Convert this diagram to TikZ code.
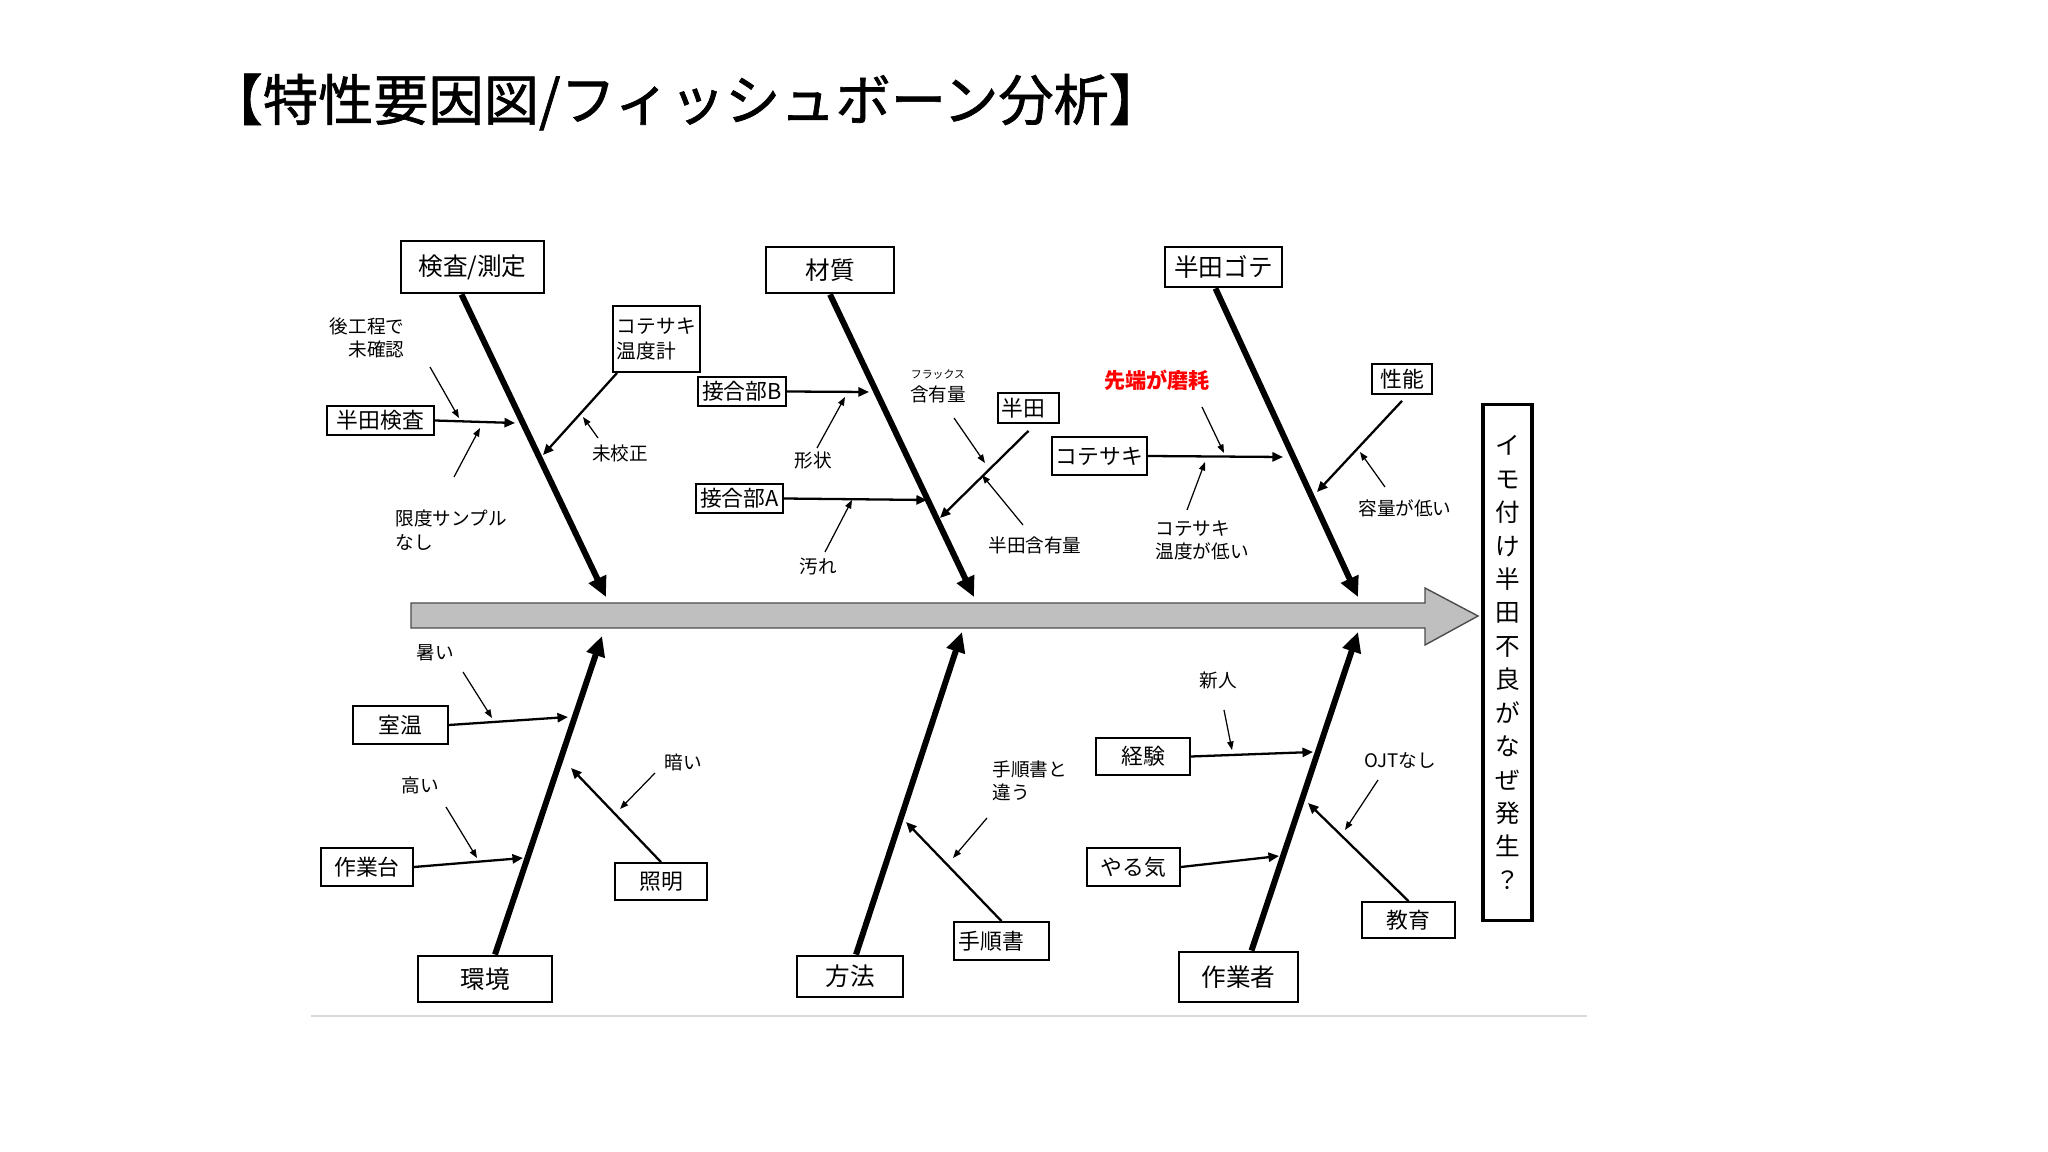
\documentclass[tikz,border=0pt]{standalone}
\usepackage{fontspec}
\setmainfont{Noto Sans CJK JP}
\newfontfamily\titlefont{Noto Sans CJK JP}[FakeBold=1.2]
\usetikzlibrary{arrows.meta}

\begin{document}
\begin{tikzpicture}[x=0.01cm,y=-0.01cm,
    catbox/.style={draw,line width=0.8pt,inner sep=0pt,font=\fontsize{7}{8}\selectfont},
    subbox/.style={draw,line width=0.5pt,inner sep=0pt,font=\fontsize{6.2}{7}\selectfont},
    lbl/.style={inner sep=0pt,font=\fontsize{5.3}{6.6}\selectfont},
    bone/.style={line width=1.7pt,-{Triangle[length=5.7pt,width=5.2pt]}},
    branch/.style={line width=0.65pt,-{Triangle[length=3pt,width=2.6pt]}},
    note/.style={line width=0.35pt,-{Triangle[length=2.4pt,width=1.8pt]}}]
    \useasboundingbox (0,0) rectangle (2048,1152);

    \node[anchor=west,inner sep=0pt,font=\titlefont\fontsize{15.7}{18}\selectfont] (title) at (207,102) {【特性要因図/フィッシュボーン分析】};

    % Spine
    \draw[fill=black!25,draw=black!70,line width=0.4pt] (411,603) -- (1425,603) -- (1425,588) -- (1478,616)
        -- (1425,645) -- (1425,628) -- (411,628) -- cycle;
    \draw[black!15,line width=0.5pt] (311,1016) -- (1587,1016);

    \node[draw,line width=0.9pt,inner sep=0pt,minimum width=0.49cm,minimum height=5.15cm,align=center,
        font=\fontsize{7}{9.5}\selectfont] (effect) at (1507.5,662.5)
        {イ\\モ\\付\\け\\半\\田\\不\\良\\が\\な\\ぜ\\発\\生\\？};

    % Categories
    \node[catbox,minimum width=1.43cm,minimum height=0.52cm] (kensa) at (472.5,267) {検査/測定};
    \node[catbox,minimum width=1.28cm,minimum height=0.46cm] (zaishitsu) at (830,270) {材質};
    \node[catbox,minimum width=1.17cm,minimum height=0.40cm] (gote) at (1223.5,267) {半田ゴテ};
    \node[catbox,minimum width=1.34cm,minimum height=0.46cm] (kankyo) at (485,979) {環境};
    \node[catbox,minimum width=1.06cm,minimum height=0.41cm] (hoho) at (850,976.5) {方法};
    \node[catbox,minimum width=1.19cm,minimum height=0.50cm] (sagyosha) at (1238.5,977) {作業者};

    % Causes
    \node[subbox,minimum width=1.07cm,minimum height=0.29cm] (hkensa) at (380.5,420.5) {半田検査};
    \node[subbox,minimum width=0.87cm,minimum height=0.66cm,text width=0.79cm,align=left,
        font=\fontsize{5.6}{7}\selectfont] (ondokei) at (656.5,339) {コテサキ\\温度計};
    \node[subbox,minimum width=0.88cm,minimum height=0.29cm] (setsuB) at (742,391.5) {接合部B};
    \node[subbox,minimum width=0.87cm,minimum height=0.29cm] (setsuA) at (739.5,498.5) {接合部A};
    \node[subbox,minimum width=0.61cm,minimum height=0.30cm,text width=0.53cm,align=left] (handa) at (1028.5,408) {半田};
    \node[subbox,minimum width=0.95cm,minimum height=0.38cm] (kote) at (1099.5,456) {コテサキ};
    \node[subbox,minimum width=0.60cm,minimum height=0.30cm] (seino) at (1402,379) {性能};
    \node[subbox,minimum width=0.95cm,minimum height=0.38cm] (shitsuon) at (400.5,725) {室温};
    \node[subbox,minimum width=0.92cm,minimum height=0.38cm] (sagyodai) at (367,867) {作業台};
    \node[subbox,minimum width=0.92cm,minimum height=0.37cm] (shomei) at (661,881.5) {照明};
    \node[subbox,minimum width=0.95cm,minimum height=0.38cm,text width=0.85cm,align=left] (tejun) at (1001.5,941) {手順書};
    \node[subbox,minimum width=0.94cm,minimum height=0.37cm] (keiken) at (1143,756.5) {経験};
    \node[subbox,minimum width=0.93cm,minimum height=0.38cm] (yaruki) at (1133.5,867) {やる気};
    \node[subbox,minimum width=0.93cm,minimum height=0.36cm] (kyoiku) at (1408.5,920) {教育};

    % Notes
    \node[lbl,align=right,anchor=east] (l1) at (405,338) {後工程で\\未確認};
    \node[lbl,align=left,anchor=west,font=\fontsize{5.3}{7}\selectfont] (l2) at (395,530) {限度サンプル\\なし};
    \node[lbl] (l3) at (620,453) {未校正};
    \node[lbl] (l4) at (813,460) {形状};
    \node[lbl] (l5) at (818,567) {汚れ};
    \node[lbl,align=center] (l6) at (938,386) {{\fontsize{3.1}{4}\selectfont フラックス}\\含有量};
    \node[lbl] (l7) at (1035,545) {半田含有量};
    \node[lbl,text=red,font=\fontsize{6}{7}\selectfont\bfseries] (l8) at (1157,380) {先端が磨耗};
    \node[lbl,align=left,anchor=west] (l9) at (1155,540) {コテサキ\\温度が低い};
    \node[lbl] (l10) at (1405,508) {容量が低い};
    \node[lbl] (l11) at (435,653) {暑い};
    \node[lbl] (l12) at (420,785) {高い};
    \node[lbl] (l13) at (683,762) {暗い};
    \node[lbl,align=left,anchor=west] (l14) at (992,781) {手順書と\\違う};
    \node[lbl] (l15) at (1218,680) {新人};
    \node[lbl] (l16) at (1400,760) {OJTなし};

    % Points
    \coordinate (tK) at (606,597);
    \coordinate (tZ) at (974,597);
    \coordinate (tG) at (1358,597);
    \coordinate (tE) at (602,636);
    \coordinate (tH) at (962,632);
    \coordinate (tS) at (1358,632);

    \coordinate (b1) at (515,423);
    \coordinate (b2) at (543,455);
    \coordinate (b3) at (869,392);
    \coordinate (b4) at (927,500);
    \coordinate (b5) at (940,518);
    \coordinate (b6) at (1283,457);
    \coordinate (b7) at (1317,492);
    \coordinate (b8) at (568,717);
    \coordinate (b9) at (523,858);
    \coordinate (b10) at (571,768);
    \coordinate (b11) at (906,822);
    \coordinate (b12) at (1313,752);
    \coordinate (b13) at (1279,856);
    \coordinate (b14) at (1308,803);

    \coordinate (n1) at (430,367);   \coordinate (m1) at (459,418);
    \coordinate (n2) at (454,477);   \coordinate (m2) at (480,428);
    \coordinate (n3) at (598,438);   \coordinate (m3) at (583,417);
    \coordinate (n4) at (817,448);   \coordinate (m4) at (845,397);
    \coordinate (n5) at (825,552);   \coordinate (m5) at (852,500);
    \coordinate (n6) at (954,418);   \coordinate (m6) at (985,463);
    \coordinate (n7) at (1023,525);  \coordinate (m7) at (982,475);
    \coordinate (n8) at (1202,407);  \coordinate (m8) at (1224,453);
    \coordinate (n9) at (1187,510);  \coordinate (m9) at (1205,462);
    \coordinate (n10) at (1385,487); \coordinate (m10) at (1360,452);
    \coordinate (n11) at (463,672);  \coordinate (m11) at (492,718);
    \coordinate (n12) at (446,807);  \coordinate (m12) at (477,858);
    \coordinate (n13) at (655,773);  \coordinate (m13) at (620,809);
    \coordinate (n14) at (987,818);  \coordinate (m14) at (953,858);
    \coordinate (n15) at (1224,710); \coordinate (m15) at (1232,750);
    \coordinate (n16) at (1378,780); \coordinate (m16) at (1345,830);

    % Bones
    \draw[bone] ([xshift=-0.11cm]kensa.south) -- (tK);
    \draw[bone] (zaishitsu.south) -- (tZ);
    \draw[bone] ([xshift=-0.08cm]gote.south) -- (tG);
    \draw[bone] ([xshift=0.1cm]kankyo.north) -- (tE);
    \draw[bone] ([xshift=0.06cm]hoho.north) -- (tH);
    \draw[bone] ([xshift=0.13cm]sagyosha.north) -- (tS);

    \draw[branch] (hkensa.east) -- (b1);
    \draw[branch] ([xshift=0.05cm]ondokei.south west) -- (b2);
    \draw[branch] (setsuB.east) -- (b3);
    \draw[branch] (setsuA.east) -- (b4);
    \draw[branch] ([yshift=-0.07cm]handa.south) -- (b5);
    \draw[branch] (kote.east) -- (b6);
    \draw[branch] ([yshift=-0.06cm]seino.south) -- (b7);
    \draw[branch] (shitsuon.east) -- (b8);
    \draw[branch] (sagyodai.east) -- (b9);
    \draw[branch] (shomei.north) -- (b10);
    \draw[branch] (tejun.north) -- (b11);
    \draw[branch] (keiken.east) -- (b12);
    \draw[branch] (yaruki.east) -- (b13);
    \draw[branch] (kyoiku.north) -- (b14);

    \foreach \i in {1,...,16}
        \draw[note] (n\i) -- (m\i);
\end{tikzpicture}
\end{document}
